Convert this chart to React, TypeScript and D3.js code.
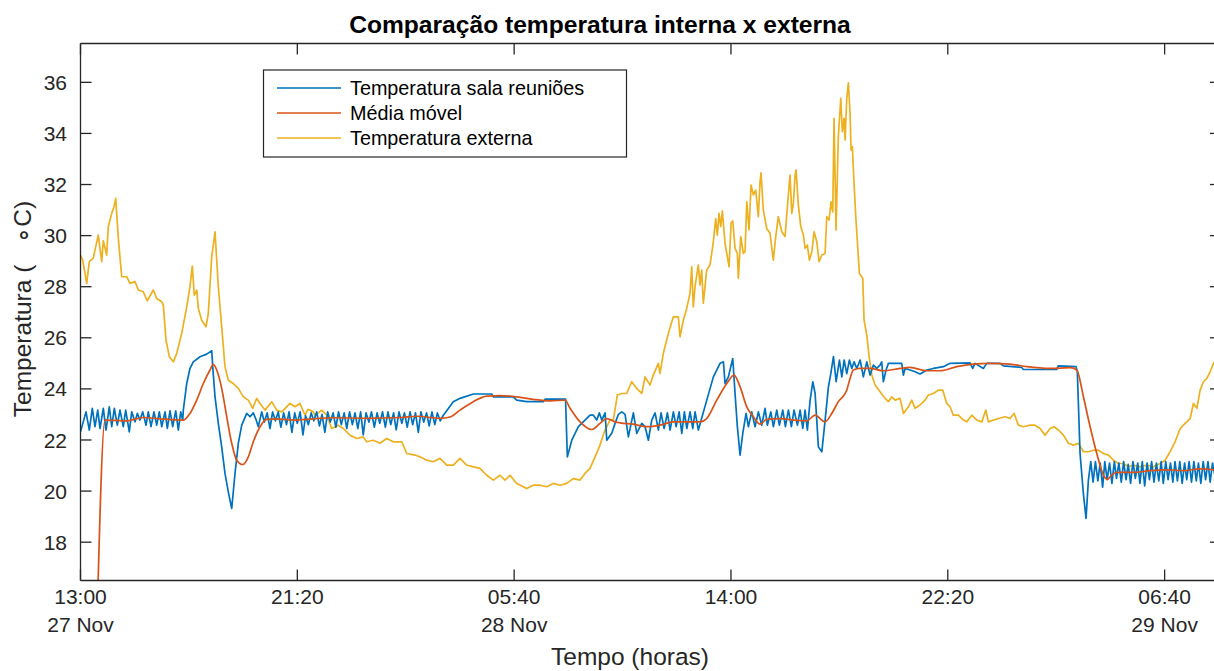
import React from "react";
import * as d3 from "d3";

// Time is stored as minutes elapsed since 27 Nov, 13:00.
const xTickMinutes = [0, 500, 1000, 1500, 2000, 2500];
const xTickTimes = ["13:00", "21:20", "05:40", "14:00", "22:20", "06:40"];
const xTickDates = ["27 Nov", "", "28 Nov", "", "", "29 Nov"];
const yTicks = [18, 20, 22, 24, 26, 28, 30, 32, 34, 36];

const seriesNames = ["Temperatura sala reuniões", "Média móvel", "Temperatura externa"];
const seriesColors = ["#0072BD", "#D95319", "#EDB120"];

// Meeting-room temperature (minute, °C)
const roomTemp: [number, number][] = [
  [0, 22.32], [12.7, 23.1], [20.3, 22.39], [27.2, 23.24], [33.4, 22.52], [39.7, 23.17], [45, 22.45],
  [52.6, 23.24], [58.8, 22.39], [66.4, 23.3], [72, 22.52], [78, 23.24], [84.9, 22.58], [91.1, 23.17],
  [98.7, 22.52], [104.2, 23.17], [112.5, 22.32], [118.1, 23.1], [125.7, 22.71], [131, 23.04],
  [137.2, 22.78], [143.5, 23.1], [151.1, 22.58], [156.4, 23.1], [162.6, 22.52], [169.5, 23.1],
  [175.7, 22.58], [181.7, 23.1], [187.3, 22.52], [194.9, 23.1], [200.2, 22.45], [206.4, 23.14],
  [212.6, 22.52], [219.6, 23.14], [225.6, 22.39], [231.1, 23.1], [235.7, 22.78],
  [237.1, 23.17], [244.9, 24.21], [252.5, 24.8], [260.1, 25.06], [275.6, 25.26], [291, 25.36],
  [302.6, 25.49], [304.9, 24.87], [310.2, 23.69], [317.8, 22.65], [325.6, 21.73], [333.2, 20.69],
  [340.8, 19.97], [348.7, 19.32], [356.3, 20.69], [363.9, 21.87], [371.8, 22.58], [383.3, 23.04],
  [391, 22.91], [398.5, 23.06], [404.8, 22.8], [410, 22.52],
  [417.9, 23.1], [424, 22.7], [430.5, 23.06], [437, 22.45], [443, 23.1], [449.5, 22.75], [456, 23.1],
  [462, 22.5], [468.5, 23.06], [475, 22.6], [481, 23.1], [487.5, 22.3], [494, 23.06], [500, 22.65],
  [506.5, 23.1], [513, 22.2], [519, 22.95], [525.5, 22.6], [532, 23.06], [538, 22.75], [544.5, 23.1],
  [551, 22.55], [557, 23.0], [563.5, 22.3], [570, 23.1], [576, 22.7], [582.5, 23.06], [589, 22.5],
  [595, 23.1], [601.5, 22.6], [608, 23.06], [614, 22.45], [620.5, 23.1], [627, 22.6], [633, 23.06],
  [639.5, 22.45], [646, 23.1], [652, 22.2], [658.5, 23.06], [665, 22.7], [671, 23.1], [677.5, 22.5],
  [684, 23.06], [690, 22.65], [696.5, 23.1], [703, 22.5], [709, 23.1], [715.5, 22.6], [722, 23.06],
  [728, 22.4], [734.5, 23.1], [741, 22.65], [747, 23.06], [753.5, 22.5], [760, 23.1], [766, 22.6],
  [772.5, 23.06], [779, 22.3], [785, 23.1], [791.5, 22.7], [798, 23.06], [804, 22.55], [810.5, 23.1],
  [817, 22.6], [823, 23.06], [829.5, 22.75], [836, 22.95],
  [859.7, 23.5], [875.2, 23.63], [905.9, 23.8], [948.3, 23.8], [952, 23.69], [998.1, 23.69],
  [1005.9, 23.56], [1029, 23.5], [1067.4, 23.5], [1071.3, 23.6], [1118.5, 23.6],
  [1122.7, 21.34], [1132.9, 21.99], [1148.1, 22.52], [1163.5, 22.78], [1175, 22.97], [1182.7, 22.97],
  [1190.5, 22.78], [1196.5, 23.06], [1202.1, 22.78], [1209.7, 23.06], [1213.6, 21.99], [1225.1, 22.26],
  [1232.7, 22.65], [1240.3, 23.0], [1248.1, 23.1], [1255.8, 23.0], [1263.4, 22.12], [1274.9, 23.06],
  [1282.7, 22.26], [1294.3, 22.65], [1301.9, 22.52], [1309.5, 21.99], [1317.3, 22.78], [1325, 23.06],
  [1332.6, 22.39], [1338.8, 23.06], [1345.8, 22.45], [1353.4, 23.06], [1359.6, 22.39], [1367.2, 23.1],
  [1373.5, 22.52], [1380.4, 23.1], [1386.6, 22.26], [1392.6, 23.1], [1398.1, 22.45], [1405.7, 23.1],
  [1411.9, 22.45], [1417.2, 23.1], [1424.8, 22.39],
  [1444.2, 23.56], [1459.4, 24.47], [1474.8, 25.0], [1482.5, 25.06], [1486.4, 24.21], [1494, 24.47],
  [1504.1, 25.19], [1509.4, 23.82], [1514.7, 22.52], [1521, 21.41], [1527.2, 22.26], [1534.8, 23.04],
  [1540.1, 22.52], [1547.9, 23.1], [1555.5, 22.52], [1563.2, 23.1], [1571, 22.58], [1578.6, 23.24],
  [1583.9, 22.58], [1591.8, 23.1], [1597.8, 22.52], [1605.6, 23.17], [1611.6, 22.58], [1619.5, 23.17],
  [1625.5, 22.52], [1632.4, 23.17], [1639.3, 22.52], [1645.5, 23.17], [1653.2, 22.58], [1659.4, 23.17],
  [1665.6, 22.45], [1670.9, 23.17], [1676.2, 22.39],
  [1682.5, 23.56], [1688.7, 24.28], [1694, 23.82], [1701.6, 21.73], [1709.5, 21.54], [1717.1, 22.78],
  [1724.7, 24.08], [1730.3, 24.61], [1736.3, 25.26], [1742.5, 24.28], [1750.1, 25.13], [1755.6, 24.47],
  [1760.9, 25.13], [1767.1, 24.6], [1773.1, 25.13], [1778.7, 24.8], [1784, 25.06], [1790.1, 24.8],
  [1797.8, 25.13], [1805.3, 24.47], [1813.2, 25.06], [1820.8, 24.54], [1828.5, 24.93], [1836.2, 24.8],
  [1843.8, 24.93], [1847.6, 25.06], [1851.4, 24.28], [1857.6, 24.74], [1863, 25.0], [1893.8, 25.0],
  [1897.6, 24.54], [1901.5, 24.8], [1913, 24.74], [1924.5, 24.67], [1936, 24.58], [1951.5, 24.74],
  [1966.7, 24.8], [1989.8, 24.87], [2005.2, 25.0], [2051.3, 25.02], [2057.5, 24.8], [2062.8, 25.0],
  [2082, 24.8], [2089.8, 25.0], [2120.5, 25.0], [2128.1, 24.9], [2170.5, 24.84], [2174.2, 24.76],
  [2251.2, 24.76], [2254.9, 24.9], [2295.7, 24.87], [2298.7, 24.67],
  [2305, 21.47], [2312.6, 19.91], [2318.8, 18.93], [2324.2, 20.43], [2329.7, 21.15],
  [2335, 20.35], [2340.5, 21.15], [2346, 20.4], [2351.5, 21.1], [2357, 20.15], [2362, 21.15],
  [2367.5, 20.45], [2373, 21.1], [2378.5, 20.3], [2384, 21.15], [2389, 20.5], [2394.5, 21.1],
  [2400, 20.35], [2405.5, 21.15], [2411, 20.45], [2416, 21.05], [2421.5, 20.3], [2427, 21.15],
  [2432.5, 20.5], [2438, 21.1], [2443, 20.3], [2448.5, 21.15], [2454, 20.2], [2459.5, 21.1],
  [2465, 20.45], [2470, 21.15], [2475.5, 20.35], [2481, 21.1], [2486.5, 20.4], [2492, 21.15],
  [2497, 20.3], [2502.5, 21.15], [2508, 20.45], [2513.5, 21.1], [2519, 20.35], [2524, 21.15],
  [2529.5, 20.4], [2535, 21.15], [2540.5, 20.3], [2546, 21.1], [2551, 20.45], [2556.5, 21.15],
  [2562, 20.35], [2567.5, 21.15], [2573, 20.4], [2578, 21.1], [2583.5, 20.3], [2589, 21.15],
  [2594.5, 20.45], [2600, 21.15], [2605, 20.35], [2610.5, 21.1], [2616, 20.6],
];

// Moving average of the room temperature (minute, °C)
const movingAvg: [number, number][] = [
  [38, 14.8], [56.5, 22.78], [106.5, 22.75], [144.8, 22.88], [183.3, 22.83], [237.1, 22.78],
  [252.5, 23.04], [268, 23.56], [283.2, 24.21], [298.6, 24.74], [306.3, 24.96], [314.1, 24.74],
  [325.6, 24.02], [337.2, 22.91], [348.7, 21.87], [360.2, 21.21], [374.1, 21.04], [387, 21.34],
  [398.5, 21.93], [414, 22.52], [429.4, 22.81], [452.4, 22.83], [490.8, 22.78], [536.9, 22.83],
  [583, 22.87], [660, 22.85], [736.8, 22.88], [775.4, 22.93], [829, 22.85], [852.1, 22.9],
  [875.1, 23.17], [905.8, 23.5], [936.7, 23.72], [967.4, 23.74], [1005.9, 23.69], [1044.2, 23.59],
  [1082.8, 23.53], [1117.4, 23.56], [1128.9, 23.24], [1151.9, 22.71], [1178.9, 22.41], [1198, 22.65],
  [1213.5, 22.84], [1232.7, 22.71], [1244.2, 22.67], [1274.9, 22.62], [1305.8, 22.52], [1336.4, 22.58],
  [1367.1, 22.71], [1428.6, 22.71], [1444, 22.84], [1467.2, 23.56], [1490.3, 24.21], [1507.1, 24.54],
  [1521, 24.08], [1536.4, 23.3], [1551.6, 22.91], [1567.1, 22.62], [1582.5, 22.81], [1613.2, 22.84],
  [1643.9, 22.78], [1674.8, 22.75], [1693.9, 22.97], [1717, 22.71], [1732.4, 23.04], [1747.6, 23.5],
  [1767, 23.95], [1774.6, 24.41], [1782.2, 24.74], [1797.7, 24.8], [1820.8, 24.8], [1851.4, 24.71],
  [1890, 24.8], [1913, 24.84], [1951.5, 24.71], [1982.2, 24.71], [2020.7, 24.87], [2059, 24.97],
  [2097.5, 25.0], [2143.6, 24.97], [2182.2, 24.87], [2235.9, 24.8], [2282, 24.83], [2297.5, 24.74],
  [2312.7, 23.69], [2328.2, 22.52], [2343.6, 21.47], [2358.8, 20.63], [2368, 20.46], [2378.2, 20.63],
  [2389.7, 20.73], [2428, 20.73], [2466.5, 20.8], [2505, 20.83], [2543.3, 20.8], [2581.9, 20.87],
  [2616, 20.83],
];

// Outdoor temperature (minute, °C)
const outdoorTemp: [number, number][] = [
  [0, 29.24], [5, 29.04], [14.3, 28.13], [20.3, 28.98], [29.5, 29.12], [33.4, 29.43], [41, 30.02],
  [48.9, 28.98], [52.6, 29.8], [60.4, 29.24], [64.1, 30.35], [72, 30.87], [77.3, 31.13], [81.2, 31.46],
  [87.2, 29.9], [95, 28.39], [106.5, 28.39], [114.2, 28.13], [125.7, 28.2], [133.3, 27.87],
  [144.8, 27.8], [154, 27.45], [167.9, 27.87], [175.7, 27.54], [187.3, 27.41], [191, 27.28],
  [197.2, 25.91], [204.8, 25.26], [214, 25.06], [221.9, 25.39], [233.4, 26.17], [244.9, 27.21],
  [252.5, 28.0], [257.8, 28.81], [262.4, 27.67], [268, 27.87], [271.7, 27.15], [279.5, 26.69],
  [289.4, 26.43], [294.7, 26.95], [302.6, 29.17], [310.2, 30.15], [317.8, 28.0], [325.6, 26.43],
  [333.2, 24.87], [340.8, 24.34], [352.4, 24.21], [363.9, 24.02], [375.4, 23.69], [386.9, 23.56],
  [397.1, 23.24], [406.3, 23.63], [414, 23.43], [425.5, 23.17], [440.9, 23.5], [452.4, 23.17],
  [464, 23.1], [483.1, 23.43], [494.6, 23.3], [506.2, 23.43], [517.7, 22.97], [524.6, 23.2],
  [536.8, 23.1], [540.8, 22.97], [556.2, 23.17], [567.7, 22.97], [579.3, 22.45], [594.5, 22.58],
  [606, 22.45], [621.5, 22.19], [636.9, 22.06], [652.1, 22.12], [659.9, 21.93], [675.2, 21.99],
  [690.6, 21.87], [706.1, 22.06], [721.3, 21.93], [740.7, 21.93], [752.2, 21.47], [771.4, 21.41],
  [782.9, 21.34], [798.3, 21.21], [813.6, 21.15], [829, 21.28], [844.5, 21.02], [859.7, 21.02],
  [875.1, 21.28], [890.6, 21.02], [905.8, 20.95], [921.3, 20.89], [936.7, 20.62], [951.9, 20.43],
  [967.4, 20.62], [978.9, 20.43], [990.5, 20.62], [1005.9, 20.3], [1029, 20.1], [1044.2, 20.23],
  [1059.7, 20.23], [1075.1, 20.17], [1090.3, 20.3], [1105.8, 20.23], [1121.2, 20.3], [1136.4, 20.49],
  [1151.9, 20.43], [1163.4, 20.69], [1174.9, 20.89], [1186.5, 21.34], [1198, 21.8], [1209.5, 22.39],
  [1221.1, 22.78], [1228.7, 22.78], [1237.9, 23.76], [1248, 23.82], [1259.5, 23.82], [1271.1, 24.28],
  [1282.6, 24.02], [1294.2, 23.82], [1301.8, 24.47], [1313.3, 24.15], [1320.9, 24.54], [1332.5, 25.0],
  [1336.4, 24.61], [1344, 25.39], [1355.5, 26.17], [1367.1, 26.82], [1378.6, 26.82], [1382.5, 26.04],
  [1390.1, 26.69], [1397.9, 27.15], [1405.5, 27.74], [1409.5, 28.78], [1413.2, 27.21], [1417.1, 28.0],
  [1424.7, 28.85], [1428.6, 28.06], [1432.5, 28.65], [1436.2, 27.35], [1444, 28.65], [1451.6, 28.85],
  [1455.6, 29.3], [1459.3, 29.76], [1464.8, 30.67], [1468.5, 30.02], [1472.5, 30.87], [1476.4, 30.35],
  [1480.1, 30.97], [1486.3, 29.7], [1490.3, 29.3], [1495.6, 28.78], [1500.2, 30.48], [1504.1, 30.58],
  [1509.4, 29.5], [1514.7, 29.3], [1517, 28.33], [1522.5, 29.96], [1528.5, 29.3], [1532.5, 29.37],
  [1536.4, 31.32], [1541.7, 30.22], [1546.3, 31.98], [1551.6, 31.59], [1557.1, 31.78], [1563.1, 30.74],
  [1567, 32.11], [1569.3, 32.46], [1574.6, 31.0], [1582.4, 30.28], [1590, 30.09], [1597.7, 29.04],
  [1603.2, 29.96], [1609.2, 30.74], [1617.1, 30.15], [1624.7, 29.96], [1630, 31.13], [1636.2, 32.37],
  [1640.2, 30.87], [1643.9, 31.26], [1647.8, 32.37], [1650.1, 32.57], [1655.4, 31.2], [1661, 30.35],
  [1667, 30.02], [1670.9, 29.5], [1676.2, 29.63], [1680.8, 29.04], [1686.4, 29.37], [1691.7, 30.15],
  [1697.9, 29.76], [1703.2, 28.98], [1709.4, 29.24], [1717, 29.3], [1720.9, 30.74], [1726.2, 30.61],
  [1730.8, 31.32], [1734.7, 30.93], [1737.7, 34.59], [1742.3, 30.22], [1747.6, 33.87], [1753.2, 35.37],
  [1756.8, 34.07], [1760.8, 34.59], [1763.1, 33.74], [1767, 35.37], [1770.7, 35.98], [1774.6, 34.79],
  [1776.9, 33.35], [1779.9, 33.48], [1783.8, 32.05], [1787.8, 30.74], [1791.5, 29.76], [1796.1, 28.52],
  [1803.9, 28.33], [1806.9, 26.69], [1813.1, 26.11], [1819.1, 25.19], [1824.7, 24.54], [1832.3, 24.15],
  [1843.8, 23.89], [1855.4, 23.63], [1863, 23.5], [1870.8, 23.69], [1878.4, 23.56], [1890, 23.63],
  [1897.6, 23.04], [1909.1, 23.3], [1916.9, 23.56], [1924.5, 23.24], [1936, 23.37], [1947.6, 23.56],
  [1955.2, 23.76], [1966.7, 23.82], [1978.3, 23.95], [1988.4, 23.95], [1997.6, 23.43], [2005.2, 23.3],
  [2012.9, 22.97], [2024.4, 22.97], [2036, 22.78], [2043.8, 22.71], [2055.3, 22.97], [2066.9, 22.78],
  [2078.4, 22.71], [2087.6, 23.17], [2093.6, 22.71], [2105.1, 22.78], [2116.7, 22.84], [2132.1, 22.91],
  [2143.6, 22.84], [2152.9, 23.04], [2162.8, 22.58], [2174.3, 22.52], [2189.8, 22.58], [2201.3, 22.58],
  [2212.8, 22.45], [2224.4, 22.19], [2235.9, 22.45], [2245.1, 22.52], [2255, 22.39], [2266.6, 22.19],
  [2278.1, 21.87], [2289.6, 21.8], [2301.2, 21.87], [2312.7, 21.54], [2324.2, 21.54], [2335.8, 21.6],
  [2347.3, 21.6], [2358.8, 21.47], [2370.4, 21.41], [2381.9, 21.21], [2393.4, 21.08], [2405, 21.08],
  [2416.5, 20.95], [2428, 21.02], [2443.5, 20.95], [2458.9, 21.02], [2474.2, 20.95], [2489.6, 21.08],
  [2501.2, 21.21], [2512.7, 21.54], [2524.2, 21.93], [2535.8, 22.45], [2547.3, 22.65], [2558.8, 22.84],
  [2566.4, 23.43], [2574.3, 23.24], [2581.9, 23.95], [2589.5, 24.28], [2597.3, 24.41], [2604.9, 24.67],
  [2614.1, 25.06],
];

const FONT = "'Liberation Sans', Arial, Helvetica, sans-serif";
const AXIS = "#262626";

export default function App() {
  const width = 1214;
  const height = 671;
  const box = { left: 80.5, right: 1221, top: 43.5, bottom: 580.5 };

  const x = d3.scaleLinear().domain([0, 2630]).range([box.left, box.right]);
  const y = d3.scaleLinear().domain([16.5, 37.52]).range([box.bottom, box.top]);

  const rawLine = d3
    .line<[number, number]>()
    .x((d) => x(d[0]))
    .y((d) => y(d[1]));
  const smoothLine = d3
    .line<[number, number]>()
    .x((d) => x(d[0]))
    .y((d) => y(d[1]))
    .curve(d3.curveMonotoneX);

  const tickLen = 11;
  const legend = { x: 263.5, y: 70, w: 363, h: 87 };
  const legendRows = [88, 113, 138];

  return (
    <div style={{ position: "absolute", left: 0, top: 0 }}>
      <svg width={width} height={height} style={{ display: "block", background: "#fff" }}>
        <defs>
          <clipPath id="plot-area">
            <rect x={box.left} y={box.top} width={box.right - box.left} height={box.bottom - box.top} />
          </clipPath>
        </defs>

        <g clipPath="url(#plot-area)" fill="none" strokeWidth={1.7} strokeLinejoin="round">
          <path d={rawLine(outdoorTemp) ?? ""} stroke={seriesColors[2]} />
          <path d={rawLine(roomTemp) ?? ""} stroke={seriesColors[0]} />
          <path d={smoothLine(movingAvg) ?? ""} stroke={seriesColors[1]} />
        </g>

        {/* axes box */}
        <g stroke={AXIS} strokeWidth={1.3} fill="none">
          <line x1={box.left} x2={box.right} y1={box.bottom} y2={box.bottom} />
          <line x1={box.left} x2={box.right} y1={box.top} y2={box.top} />
          <line x1={box.left} x2={box.left} y1={box.top} y2={box.bottom} />
          <line x1={box.right} x2={box.right} y1={box.top} y2={box.bottom} />
          {xTickMinutes.map((m) => (
            <g key={`xt${m}`}>
              <line x1={x(m)} x2={x(m)} y1={box.bottom} y2={box.bottom - tickLen} />
              <line x1={x(m)} x2={x(m)} y1={box.top} y2={box.top + tickLen} />
            </g>
          ))}
          {yTicks.map((v) => (
            <g key={`yt${v}`}>
              <line x1={box.left} x2={box.left + tickLen} y1={y(v)} y2={y(v)} />
              <line x1={box.right} x2={box.right - tickLen} y1={y(v)} y2={y(v)} />
            </g>
          ))}
        </g>

        <g fontFamily={FONT} fill={AXIS} fontSize={21}>
          {xTickMinutes.map((m, i) => (
            <g key={`xl${m}`}>
              <text x={x(m)} y={604} textAnchor="middle">{xTickTimes[i]}</text>
              {xTickDates[i] && (
                <text x={x(m)} y={632} textAnchor="middle">{xTickDates[i]}</text>
              )}
            </g>
          ))}
          {yTicks.map((v) => (
            <text key={`yl${v}`} x={67} y={y(v)} dy="0.36em" textAnchor="end">{v}</text>
          ))}
          <text x={630} y={665} textAnchor="middle" fontSize={24.5}>Tempo (horas)</text>
          <text transform="translate(31,309) rotate(-90)" textAnchor="middle" fontSize={24.5}>
            Temperatura (<tspan dx={22}>∘C)</tspan>
          </text>
          <text x={600} y={33} textAnchor="middle" fontSize={24.6} fontWeight="bold" fill="#000">
            Comparação temperatura interna x externa
          </text>
        </g>

        {/* legend */}
        <g>
          <rect x={legend.x} y={legend.y} width={legend.w} height={legend.h} fill="#fff" stroke="#262626" strokeWidth={1.2} />
          {seriesNames.map((name, i) => (
            <g key={name}>
              <line x1={277} x2={341} y1={legendRows[i]} y2={legendRows[i]} stroke={seriesColors[i]} strokeWidth={1.7} />
              <text x={350} y={legendRows[i]} dy="0.36em" fontFamily={FONT} fontSize={19.8} fill="#000">{name}</text>
            </g>
          ))}
        </g>
      </svg>
    </div>
  );
}
